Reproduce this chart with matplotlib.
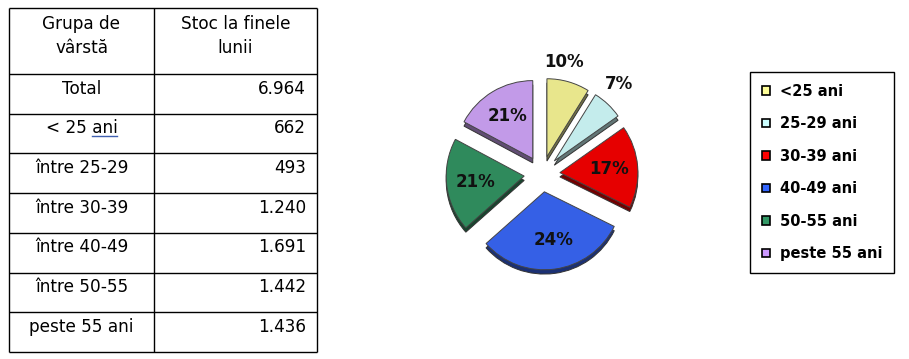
import numpy as np
import matplotlib
matplotlib.use("Agg")
import matplotlib.pyplot as plt
from matplotlib.patches import Patch
from matplotlib.colors import to_rgb

# data
grupe_tabel = ["Total", "< 25 ani", "între 25-29", "între 30-39",
               "între 40-49", "între 50-55", "peste 55 ani"]
stoc_tabel = ["6.964", "662", "493", "1.240", "1.691", "1.442", "1.436"]
antet = ["Grupa de\nvârstă", "Stoc la finele\nlunii"]

grupe_pie = ["<25 ani", "25-29 ani", "30-39 ani", "40-49 ani", "50-55 ani", "peste 55 ani"]
valori = [662, 493, 1240, 1691, 1442, 1436]
etichete_pct = ["10%", "7%", "17%", "24%", "21%", "21%"]

# styles
PIE_COL = ["#E8E68C", "#C4ECEC", "#E60000", "#3560E6", "#2F8A5C", "#C29AE8"]
LEG_COL = ["#FFFF99", "#CCFFFF", "#FF0000", "#3366FF", "#339966", "#CC99FF"]
EXPLODE = 0.23
LAB_R = [1.46, 1.52, 0.86, 0.86, 0.86, 0.86]   # label distance from pie centre
LAB_DA = [-5, -3, 0, -2, 0, 0]                 # small angular nudge of labels (deg)
BOLD = dict(family="DejaVu Sans", fontweight="bold")


def persp(cw):
    """fake 3-D perspective: near (bottom) side widens, far side narrows"""
    r = np.deg2rad(cw)
    return cw - 12 * np.sin(r) + 4 * (1 - np.cos(r)) + 4 * np.sin(2 * r)


W, H = 909, 359
fig = plt.figure(figsize=(W / 100, H / 100), dpi=100)

# ---------------------------------------------------------------- table
ax = fig.add_axes([0, 0, 1, 1])
ax.set_xlim(0, W); ax.set_ylim(H, 0); ax.axis("off")
x0, xm, x1 = 9, 154, 317
top, head_h, row_h = 8, 66, 39.7
n = len(grupe_tabel)
ys = [top, top + head_h] + [top + head_h + row_h * (i + 1) for i in range(n)]
ax.hlines(ys, x0, x1, color="black", lw=1)
ax.vlines([x0, xm, x1], ys[0], ys[-1], color="black", lw=1)
tfont = dict(family="DejaVu Sans", fontsize=12.2, color="black")
ax.text((x0 + xm) / 2, top + 28, antet[0], ha="center", va="center",
        linespacing=1.45, **tfont)
ax.text((xm + x1) / 2, top + 28, antet[1], ha="center", va="center",
        linespacing=1.45, **tfont)
lbl_txt = []
for i, (g, s) in enumerate(zip(grupe_tabel, stoc_tabel)):
    yc = ys[i + 1] + 14.5
    t = ax.text((x0 + xm) / 2, yc, g, ha="center", va="center", **tfont)
    lbl_txt.append(t)
    ax.text(x1 - 11, yc, s, ha="right", va="center", **tfont)

# blue underline under "ani" in "< 25 ani"
fig.canvas.draw()
r = fig.canvas.get_renderer()
bb = lbl_txt[1].get_window_extent(r)
inv = ax.transData.inverted()
(bx0, by0), (bx1, by1) = inv.transform([[bb.x0, bb.y0], [bb.x1, bb.y1]])
tmp = ax.text(0, 0, "< 25 ", **tfont)
wpre = tmp.get_window_extent(r).width
tmp.remove()
ux0 = inv.transform([[bb.x0 + wpre, 0]])[0][0]
ax.plot([ux0, bx1], [by0 - 1.5, by0 - 1.5], color="#4060B0", lw=1)

# ---------------------------------------------------------------- pie
cx, cy, rad = 542, 174, 78
half = 2 * rad
pax = fig.add_axes([(cx - half) / W, (H - cy - half) / H, 2 * half / W, 2 * half / H])
tot = float(sum(valori))
cum = np.cumsum([0] + valori) / tot * 360      # clockwise from 12 o'clock
edges = persp(cum)
mids = (edges[:-1] + edges[1:]) / 2
dark = [tuple(c * 0.5 for c in to_rgb(col)) for col in PIE_COL]

for cols, off, ec in [(dark, (0.0, -0.055), "#333"), (PIE_COL, (0.0, 0.0), "#444")]:
    wedges, _ = pax.pie(valori, colors=cols, startangle=90, counterclock=False,
                        wedgeprops=dict(edgecolor=ec, linewidth=0.7))
    for k, w in enumerate(wedges):
        a = np.deg2rad(90 - mids[k])
        w.set_center((off[0] + EXPLODE * np.cos(a), off[1] + EXPLODE * np.sin(a)))
        w.set_theta1(90 - edges[k + 1])
        w.set_theta2(90 - edges[k])

for k, lab in enumerate(etichete_pct):
    a = np.deg2rad(90 - mids[k] - LAB_DA[k])
    pax.text(LAB_R[k] * np.cos(a), LAB_R[k] * np.sin(a), lab, ha="center", va="center",
             fontsize=12, color="#111", **BOLD)
pax.set_xlim(-2, 2); pax.set_ylim(-2, 2); pax.set_aspect("equal")
pax.axis("off")

# ---------------------------------------------------------------- legend
handles = [Patch(facecolor=c, edgecolor="black", linewidth=1.2) for c in LEG_COL]
leg = fig.legend(handles, grupe_pie, loc="upper left",
                 bbox_to_anchor=(750 / W, 1 - 72 / H), frameon=True, fancybox=False,
                 edgecolor="black", framealpha=1, handlelength=0.55, handleheight=0.55,
                 handletextpad=0.68, labelspacing=1.2, borderpad=0.8,
                 borderaxespad=0, prop=dict(family="DejaVu Sans", weight="bold", size=10.5))
leg.get_frame().set_linewidth(1)

fig.savefig("out.png", dpi=100)
